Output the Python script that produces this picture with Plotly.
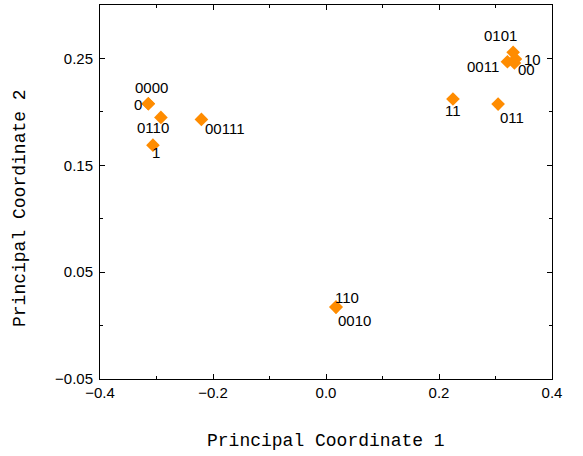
import plotly.graph_objects as go

labels = ["0000", "0", "0110", "1", "00111", "110", "0010",
          "0101", "0011", "10", "00", "11", "011"]
pc1 = [-0.3145, -0.3145, -0.2922, -0.3063, -0.2205, 0.0177, 0.0177,
       0.3312, 0.3211, 0.3353, 0.3335, 0.2247, 0.3046]
pc2 = [0.2076, 0.2076, 0.1948, 0.1688, 0.1929, 0.0173, 0.0173,
       0.2557, 0.2469, 0.2494, 0.2457, 0.2120, 0.2073]

x_ticks = [-0.4, -0.2, 0.0, 0.2, 0.4]
x_ticktext = ["\u22120.4", "\u22120.2", "0.0", "0.2", "0.4"]
y_ticks = [-0.05, 0.05, 0.15, 0.25]
y_ticktext = ["\u22120.05", "0.05", "0.15", "0.25"]

# label offsets in pixels (style only)
dx = [3, -10, -8, 3, 24, 11, 18, -13, -24, 17, 12, 0, 14]
dy = [16, -1, -10, -7, -9, 10, -13, 17, -5, 0, -6, -11, -13]

fig = go.Figure()
fig.add_trace(go.Scatter(
    x=pc1, y=pc2, mode="markers",
    marker=dict(symbol="diamond", size=10.5, color="#FF8C00",
                line=dict(width=0)),
    hoverinfo="text", text=labels,
))

for lab, xv, yv, sx, sy in zip(labels, pc1, pc2, dx, dy):
    fig.add_annotation(x=xv, y=yv, text=lab, showarrow=False,
                       xshift=sx, yshift=sy,
                       font=dict(family="Liberation Sans, Arial", size=15,
                                 color="black"))

axis_common = dict(
    showgrid=False, zeroline=False, showline=True, linecolor="black",
    linewidth=1, mirror="ticks", ticks="inside", ticklen=5,
    tickcolor="black", tickwidth=1,
    tickfont=dict(family="Liberation Sans, Arial", size=15, color="black"),
)

fig.update_xaxes(
    range=[-0.4, 0.4], tickvals=x_ticks, ticktext=x_ticktext,
    minor=dict(ticks="inside", ticklen=3, tickvals=[-0.3, -0.1, 0.1, 0.3],
               tickcolor="black", showgrid=False),
    **axis_common,
)
fig.update_yaxes(
    range=[-0.05, 0.30], tickvals=y_ticks, ticktext=y_ticktext,
    ticklabelstandoff=3,
    minor=dict(ticks="inside", ticklen=3, tickvals=[0.0, 0.1, 0.2],
               tickcolor="black", showgrid=False),
    **axis_common,
)

fig.add_annotation(xref="paper", yref="paper", x=0.5, y=0,
                   yshift=-62, xanchor="center", yanchor="middle",
                   text="Principal Coordinate 1", showarrow=False,
                   font=dict(family="Liberation Mono, Courier New", size=18,
                             color="black"))
fig.add_annotation(xref="paper", yref="paper", x=0, y=0.5,
                   xshift=-80, yshift=-16, xanchor="center", yanchor="middle",
                   textangle=-90,
                   text="Principal Coordinate 2", showarrow=False,
                   font=dict(family="Liberation Mono, Courier New", size=18,
                             color="black"))

fig.update_layout(
    width=583, height=456,
    margin=dict(l=100, r=31, t=5, b=77),
    plot_bgcolor="white", paper_bgcolor="white",
    showlegend=False,
)

fig.write_html("out.html",
               config={"displayModeBar": False},
               post_script="document.body.style.margin='0';"
                           "document.body.style.overflow='hidden';")
